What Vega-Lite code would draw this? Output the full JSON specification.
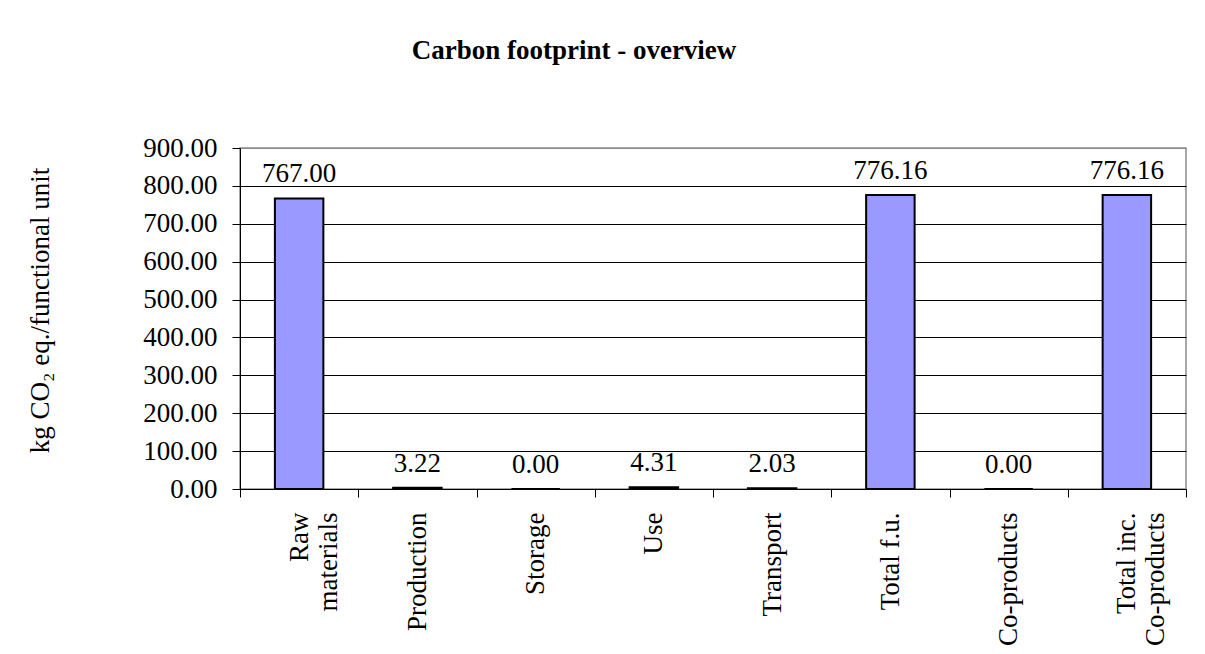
{
  "$schema": "https://vega.github.io/schema/vega-lite/v6.json",
  "width": 946,
  "height": 341,
  "autosize": "none",
  "padding": {"left": 240, "top": 148, "right": 19, "bottom": 165},
  "background": "white",
  "config": {
    "font": "Liberation Serif",
    "view": {"stroke": "#8c8c8c", "strokeWidth": 1.5}
  },
  "title": {
    "text": "Carbon footprint - overview",
    "font": "Liberation Serif",
    "fontSize": 27,
    "fontWeight": "bold",
    "color": "black",
    "anchor": "middle",
    "frame": "group",
    "dx": -139,
    "baseline": "alphabetic",
    "offset": 48
  },
  "data": {
    "values": [
      {"stage": "Raw\nmaterials", "value": 767.00},
      {"stage": "Production", "value": 3.22},
      {"stage": "Storage", "value": 0.00},
      {"stage": "Use", "value": 4.31},
      {"stage": "Transport", "value": 2.03},
      {"stage": "Total f.u.", "value": 776.16},
      {"stage": "Co-products", "value": 0.00},
      {"stage": "Total inc.\nCo-products", "value": 776.16}
    ]
  },
  "encoding": {
    "x": {
      "field": "stage",
      "type": "nominal",
      "sort": null,
      "scale": {"paddingInner": 0, "paddingOuter": 0},
      "axis": {
        "title": null,
        "labelAngle": -90,
        "labelAlign": "right",
        "labelBaseline": "middle",
        "labelFont": "Liberation Serif",
        "labelFontSize": 27,
        "labelColor": "black",
        "labelLineHeight": 29,
        "labelPadding": 15,
        "labelExpr": "datum.label == 'Raw\\nmaterials' ? ['Raw\u00a0\u00a0\u00a0\u00a0', 'materials'] : datum.label == 'Total inc.\\nCo-products' ? ['Total inc.\u00a0\u00a0', 'Co-products'] : datum.label",
        "tickBand": "extent",
        "tickSize": 8,
        "tickColor": "black",
        "domainColor": "black",
        "grid": false
      }
    },
    "y": {
      "field": "value",
      "type": "quantitative",
      "scale": {"domain": [0, 900], "nice": false},
      "axis": {
        "title": "kg CO₂ eq./functional unit",
        "titleFont": "Liberation Serif",
        "titleFontSize": 27,
        "titleFontWeight": "normal",
        "titleColor": "black",
        "titleAngle": -90,
        "titleX": -200,
        "titleY": 162,
        "titleAlign": "center",
        "titleBaseline": "middle",
        "values": [0, 100, 200, 300, 400, 500, 600, 700, 800, 900],
        "format": ".2f",
        "labelFont": "Liberation Serif",
        "labelFontSize": 27,
        "labelColor": "black",
        "labelPadding": 15,
        "tickSize": 8,
        "tickColor": "black",
        "domainColor": "black",
        "grid": true,
        "gridColor": {"condition": {"test": "datum.value == 900", "value": "#8c8c8c"}, "value": "black"},
        "gridOpacity": 1
      }
    }
  },
  "layer": [
    {
      "mark": {"type": "bar", "width": {"band": 0.41}, "fill": "#9999ff", "stroke": "black", "strokeWidth": 2}
    },
    {
      "mark": {"type": "text", "baseline": "alphabetic", "align": "center", "dy": -16, "fontSize": 27, "color": "black", "font": "Liberation Serif"},
      "encoding": {
        "text": {"field": "value", "type": "quantitative", "format": ".2f"}
      }
    }
  ]
}
